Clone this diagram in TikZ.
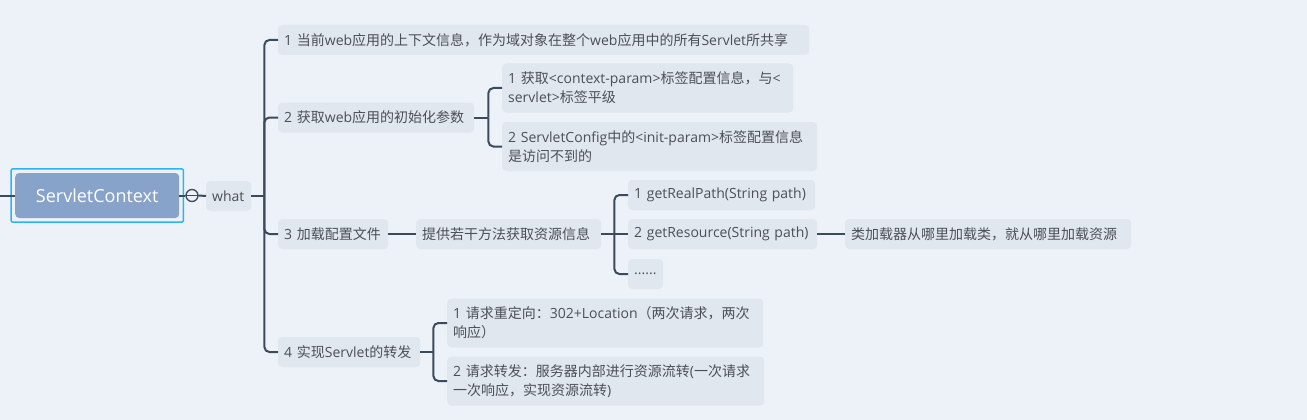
\documentclass[tikz,border=0pt]{standalone}
\usepackage{fontspec}
\setmainfont{Open Sans}
\newfontfamily\cjkfont{Noto Sans CJK SC}
\newfontfamily\latfont{Open Sans}
% switch to the CJK font for Chinese characters
\XeTeXinterchartokenstate=1
\newXeTeXintercharclass\cjkclass
\newcount\cjkcnt
\def\cjkrange#1#2{\cjkcnt=#1\relax
  \loop\XeTeXcharclass\cjkcnt=\cjkclass
  \ifnum\cjkcnt<#2\advance\cjkcnt by 1\repeat}
\cjkrange{"4E00}{"9FFF}
\cjkrange{"3000}{"303F}
\cjkrange{"FF00}{"FFEF}
\XeTeXinterchartoks 0 \cjkclass={\cjkfont}
\XeTeXinterchartoks 4095 \cjkclass={\cjkfont}
\XeTeXinterchartoks \cjkclass 0={\latfont}
\XeTeXinterchartoks \cjkclass 4095={\latfont}
\definecolor{bgc}{HTML}{EDF2F9}
\definecolor{boxc}{HTML}{E1E7EF}
\definecolor{linec}{HTML}{3B4A5C}
\definecolor{txtc}{HTML}{4B5058}
\definecolor{rootc}{HTML}{87A3C9}
\definecolor{selc}{HTML}{2DB4EE}
\begin{document}
\begin{tikzpicture}[x=1pt,y=-1pt,
    topic/.style={fill=boxc,rounded corners=4pt,text=txtc,anchor=west,align=left,
      font=\fontsize{14}{19}\selectfont,inner xsep=6pt,inner ysep=0pt,
      minimum height=30pt,text width=#1},
    topic2/.style={topic=#1,minimum height=49pt},
    root/.style={fill=rootc,rounded corners=4pt,text=white,anchor=west,
      font=\fontsize{18}{22}\selectfont,minimum width=164pt,minimum height=45pt},
    fold/.style={circle,draw=linec,line width=1.3pt,fill=bgc,minimum size=12pt,inner sep=0pt}]
  \fill[bgc] (0,0) rectangle (1307,420);
  \useasboundingbox (0,0) rectangle (1307,420);
  \draw
    (0,195.5) coordinate (in)
    (15,195.5) node[root] (ctx){ServletContext}
    (192,195.5) node[fold] (fold){}
    (206,196) node[topic=33pt] (what){what}
    (278,40) node[topic=519pt] (w1){1 当前web应用的上下文信息，作为域对象在整个web应用中的所有Servlet所共享}
    (278,117.5) node[topic=184pt] (w2){2 获取web应用的初始化参数}
    (502,88) node[topic2=279pt] (w21){1 获取<context-param>标签配置信息，与<\\servlet>标签平级}
    (502,146.5) node[topic2=303pt] (w22){2 ServletConfig中的<init-param>标签配置信息\\是访问不到的}
    (278,234) node[topic=98pt] (w3){3 加载配置文件}
    (416,234) node[topic=173pt] (w31){提供若干方法获取资源信息}
    (628,195) node[topic=175pt] (w311){1 getRealPath(String path)}
    (628,234) node[topic=177pt] (w312){2 getResource(String path)}
    (628,274) node[topic=23pt] (w313){......}
    (845,234) node[topic=274pt] (w3121){类加载器从哪里加载类，就从哪里加载资源}
    (278,352) node[topic=130pt] (w4){4 实现Servlet的转发}
    (447,323) node[topic2=304pt] (w41){1 请求重定向：302+Location（两次请求，两次\\响应）}
    (447,381) node[topic2=305pt] (w42){2 请求转发：服务器内部进行资源流转(一次请求\\一次响应，实现资源流转)};
  \draw[selc,line width=1.5pt,rounded corners=2pt]
    ([shift={(-4,-4)}]ctx.north west) rectangle ([shift={(4,4)}]ctx.south east);
  \begin{scope}[linec,line width=2pt]
    \draw (in) -- (ctx.west);
    \draw (ctx.east) -- (fold.west);
    \draw (fold.east) -- (what.west);
    \draw[line width=1.3pt] (fold.west) -- (fold.east);
    \draw (what.east) -- ++(13,0) coordinate (jw);
    \draw (w2.east) -- ++(14,0) coordinate (j2);
    \draw (w31.east) -- ++(13,0) coordinate (j31);
    \draw (w4.east) -- ++(13,0) coordinate (j4);
    \begin{scope}[rounded corners=5pt]
      \foreach \c in {w1,w2,w3,w4} \draw (jw) |- (\c.west);
      \foreach \c in {w21,w22} \draw (j2) |- (\c.west);
      \foreach \c in {w311,w313} \draw (j31) |- (\c.west);
      \foreach \c in {w41,w42} \draw (j4) |- (\c.west);
    \end{scope}
    \draw (j31) -- (w312.west);
    \draw (w3.east) -- (w31.west);
    \draw (w312.east) -- (w3121.west);
  \end{scope}
\end{tikzpicture}
\end{document}
